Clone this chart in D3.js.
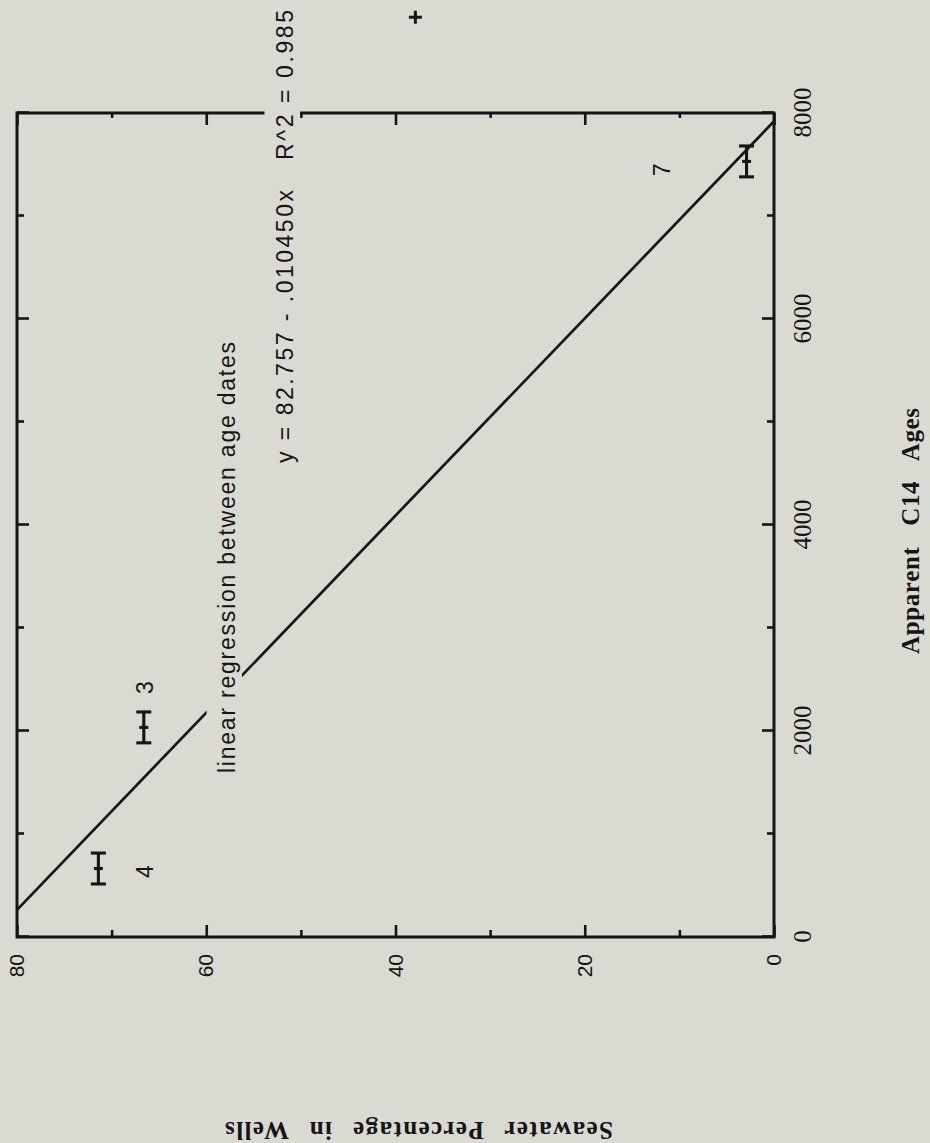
<!DOCTYPE html>
<html>
<head>
<meta charset="utf-8">
<script src="https://cdn.jsdelivr.net/npm/d3@7"></script>
<style>
html,body{margin:0;padding:0;background:#d9dbd3;}
svg{display:block;}
</style>
</head>
<body>
<svg id="chart" width="930" height="1143"></svg>
<script>
// ---------------- data ----------------
const wells        = ["4", "3", "7"];
const ageC14       = [665, 2035, 7530];      // apparent C14 age (years)
const ageError     = [150, 150, 150];        // +/- age error
const seawaterPct  = [71.4, 66.6, 2.9];      // seawater percentage in wells
const labelAge     = [635, 2422, 7447];      // where the well numbers sit
const labelSeawater= [65.6, 65.6, 11.0];
const strayAge     = [8930];                 // lone "+" above the frame
const straySeawater= [37.9];

const ageTicksMajor = [0, 2000, 4000, 6000, 8000];
const ageTicksMinor = [1000, 3000, 5000, 7000];
const swTicksMajor  = [0, 20, 40, 60, 80];
const swTicksMinor  = [10, 30, 50, 70];

const regIntercept = 82.757;
const regSlope     = -0.010450;

const annoText     = ["linear regression between age dates", "y = 82.757 - .010450x", "R^2 = 0.985"];
const annoAgeStart = [1592, 4602, 7544];
const annoAgeEnd   = [5777, 7252, 9000];
const annoSeawater = [56.96, 50.83, 50.83];

// ---------------- layout ----------------
const W = 930, H = 1143;
const frame = {left: 17, right: 774, top: 113, bottom: 937};
const plotLen   = frame.bottom - frame.top;   // age axis length (runs upward on screen)
const plotDepth = frame.right - frame.left;   // seawater axis length
const ink = "#151515";
const bg  = "#d9dbd3";

const svg = d3.select("#chart").attr("overflow", "visible");
svg.append("rect").attr("width", W).attr("height", H).attr("fill", bg);

// the whole chart is turned a quarter turn counter-clockwise
const g = svg.append("g")
  .attr("transform", `translate(${frame.left},${frame.bottom}) rotate(-90)`);

const age = d3.scaleLinear().domain([0, 8000]).range([0, plotLen]);
const sw  = d3.scaleLinear().domain([0, 80]).range([plotDepth, 0]);

// regression line
const regAge = s => (s - regIntercept) / regSlope;
g.append("line")
  .attr("x1", age(regAge(80))).attr("y1", sw(80))
  .attr("x2", age(regAge(0))).attr("y2", sw(0))
  .attr("stroke", ink).attr("stroke-width", 2.7);

// axes
function styleAxis(sel, family, size) {
  sel.select(".domain").remove();
  sel.selectAll(".tick line").attr("stroke", ink).attr("stroke-width", 2.6);
  sel.attr("font-family", family).attr("font-size", size);
  sel.selectAll(".tick text").attr("fill", ink);
}
// age axis with labels (screen right)
g.append("g").attr("transform", `translate(0,${plotDepth})`)
  .call(d3.axisBottom(age).tickValues(ageTicksMajor).tickSize(-12).tickPadding(19).tickFormat(d3.format("d")))
  .call(s => styleAxis(s, "'Liberation Serif','Times New Roman',serif", 25));
g.append("g").attr("transform", `translate(0,${plotDepth})`)
  .call(d3.axisBottom(age).tickValues(ageTicksMinor).tickSize(-7).tickFormat(""))
  .call(s => styleAxis(s, "serif", 10));
// age axis opposite (screen left)
g.append("g")
  .call(d3.axisTop(age).tickValues(ageTicksMajor).tickSize(-12).tickFormat(""))
  .call(s => styleAxis(s, "serif", 10));
g.append("g")
  .call(d3.axisTop(age).tickValues(ageTicksMinor).tickSize(-7).tickFormat(""))
  .call(s => styleAxis(s, "serif", 10));
// seawater axis with labels (screen bottom)
g.append("g")
  .call(d3.axisLeft(sw).tickValues(swTicksMajor).tickSize(-12).tickPadding(17).tickFormat(d3.format("d")))
  .call(s => styleAxis(s, "'Liberation Sans',Arial,Helvetica,sans-serif", 21));
g.append("g")
  .call(d3.axisLeft(sw).tickValues(swTicksMinor).tickSize(-7).tickFormat(""))
  .call(s => styleAxis(s, "sans-serif", 10));
// seawater axis opposite (screen top)
g.append("g").attr("transform", `translate(${plotLen},0)`)
  .call(d3.axisRight(sw).tickValues(swTicksMajor).tickSize(-12).tickFormat(""))
  .call(s => styleAxis(s, "sans-serif", 10));
g.append("g").attr("transform", `translate(${plotLen},0)`)
  .call(d3.axisRight(sw).tickValues(swTicksMinor).tickSize(-5).tickFormat(""))
  .call(s => styleAxis(s, "sans-serif", 10));

// frame
g.append("rect").attr("x", 0).attr("y", 0).attr("width", plotLen).attr("height", plotDepth)
  .attr("fill", "none").attr("stroke", ink).attr("stroke-width", 3);

// annotation text with knock-out boxes
const annoIdx = d3.range(annoText.length);
g.selectAll("rect.knock").data(annoIdx).join("rect").attr("class", "knock")
  .attr("x", i => age(annoAgeStart[i]) - 4)
  .attr("width", i => age(annoAgeEnd[i]) - age(annoAgeStart[i]) + 8)
  .attr("y", i => sw(annoSeawater[i]) - 28.5)
  .attr("height", 35.5)
  .attr("fill", bg);
g.selectAll("text.anno").data(annoIdx).join("text").attr("class", "anno")
  .attr("x", i => age(annoAgeStart[i]))
  .attr("y", i => sw(annoSeawater[i]))
  .attr("textLength", i => age(annoAgeEnd[i]) - age(annoAgeStart[i]))
  .attr("lengthAdjust", "spacing")
  .attr("font-family", "'Liberation Sans',Arial,Helvetica,sans-serif")
  .attr("font-size", 23)
  .attr("fill", ink)
  .text(i => annoText[i]);

// error bars
const idx = d3.range(wells.length);
const bars = g.selectAll("g.bar").data(idx).join("g").attr("class", "bar")
  .attr("stroke", ink).attr("stroke-width", 3.1);
bars.append("line")
  .attr("x1", i => age(ageC14[i] - ageError[i])).attr("x2", i => age(ageC14[i] + ageError[i]))
  .attr("y1", i => sw(seawaterPct[i])).attr("y2", i => sw(seawaterPct[i]));
[-1, 1].forEach(side => {
  bars.append("line")
    .attr("x1", i => age(ageC14[i] + side * ageError[i])).attr("x2", i => age(ageC14[i] + side * ageError[i]))
    .attr("y1", i => sw(seawaterPct[i]) - 7.5).attr("y2", i => sw(seawaterPct[i]) + 7.5);
});
bars.append("line")
  .attr("x1", i => age(ageC14[i])).attr("x2", i => age(ageC14[i]))
  .attr("y1", i => sw(seawaterPct[i]) - 4.5).attr("y2", i => sw(seawaterPct[i]) + 4.5);

// well labels
g.selectAll("text.well").data(idx).join("text").attr("class", "well")
  .attr("x", i => age(labelAge[i]))
  .attr("y", i => sw(labelSeawater[i]))
  .attr("text-anchor", "middle")
  .attr("font-family", "'Liberation Sans',Arial,Helvetica,sans-serif")
  .attr("font-size", 23)
  .attr("fill", ink)
  .text(i => wells[i]);

// stray "+" marker
const stray = g.selectAll("g.stray").data(d3.range(strayAge.length)).join("g").attr("class", "stray")
  .attr("stroke", ink).attr("stroke-width", 3);
stray.append("line")
  .attr("x1", i => age(strayAge[i]) - 6.5).attr("x2", i => age(strayAge[i]) + 6.5)
  .attr("y1", i => sw(straySeawater[i])).attr("y2", i => sw(straySeawater[i]));
stray.append("line")
  .attr("x1", i => age(strayAge[i])).attr("x2", i => age(strayAge[i]))
  .attr("y1", i => sw(straySeawater[i]) - 6.5).attr("y2", i => sw(straySeawater[i]) + 6.5);

// axis titles
svg.append("text")
  .attr("transform", `translate(919,654) rotate(-90)`)
  .attr("font-family", "'Liberation Serif','Times New Roman',serif")
  .attr("font-weight", "bold").attr("font-size", 25)
  .attr("word-spacing", 14)
  .attr("textLength", 246).attr("lengthAdjust", "spacing")
  .attr("fill", ink)
  .text("Apparent C14 Ages");
svg.append("text")
  .attr("transform", `translate(613,1122) rotate(180)`)
  .attr("font-family", "'Liberation Serif','Times New Roman',serif")
  .attr("font-weight", "bold").attr("font-size", 25)
  .attr("word-spacing", 12)
  .attr("textLength", 388).attr("lengthAdjust", "spacing")
  .attr("fill", ink)
  .text("Seawater Percentage in Wells");
</script>
</body>
</html>
